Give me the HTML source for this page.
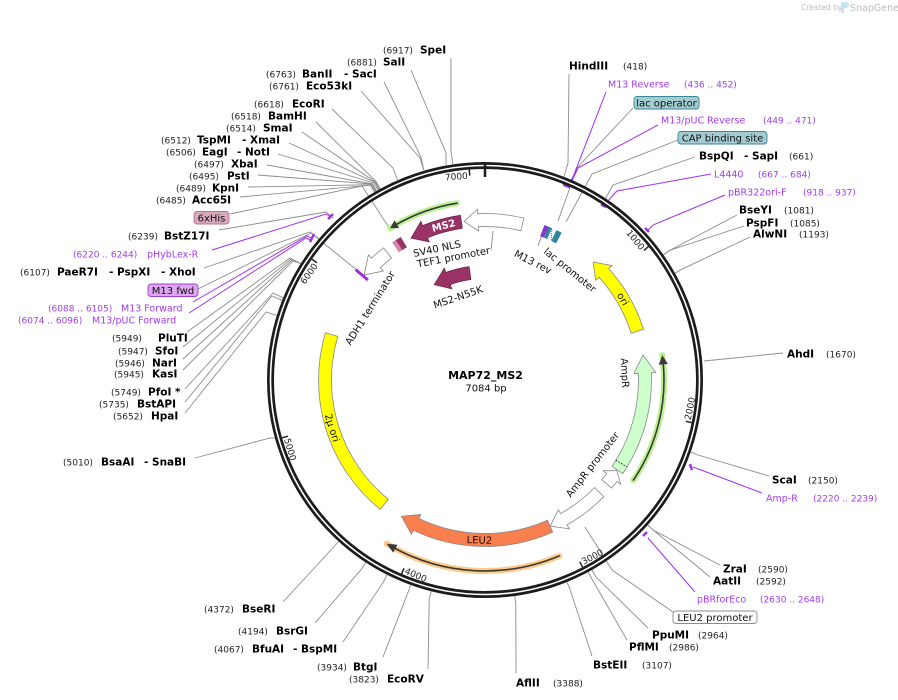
<!DOCTYPE html>
<html><head><meta charset="utf-8"><style>
html,body{margin:0;padding:0;background:#fff;}
svg{display:block;}
.n{font-size:9px;fill:#222;}
.b{font-size:10.5px;font-weight:bold;fill:#000;}
.p{font-size:9.5px;fill:#a23cf0;}
.pn{font-size:9px;fill:#a23cf0;}
.f{font-size:10px;fill:#111;}
.t{font-size:9px;fill:#222;}
</style></head><body>
<svg xmlns="http://www.w3.org/2000/svg" width="898" height="700" viewBox="0 0 898 700" font-family="'DejaVu Sans', Verdana, sans-serif">
<rect width="898" height="700" fill="#fff"/>

<!-- gray connector lines -->
<g stroke="#8c8c8c" stroke-width="0.9" fill="none">
<polyline points="451,58 451,152 452.8,164"/>
<polyline points="411,70 446,153 446,165"/>
<polyline points="384,82 421,157 423.8,170"/>
<polyline points="361,91 420,158 423.8,170"/>
<polyline points="332,109 393,168 397.5,180"/>
<polyline points="316,122 376.3,181.9 380.1,188.9"/>
<polyline points="302,132 375.6,182.2 379.4,189.3"/>
<polyline points="289,143 375.2,182.5 379.1,189.4"/>
<polyline points="278,154 374.1,183.1 378.1,190"/>
<polyline points="267,165 372.6,183.9 376.5,190.9"/>
<polyline points="258,175 372.2,184.1 376.2,191.1"/>
<polyline points="248,187 371.2,184.7 375.2,191.6"/>
<polyline points="240,197 370.5,185.2 374.5,192.1"/>
<polyline points="230,214 362,186 390,229"/>
<polyline points="219,230 326,212 333,218"/>
<polyline points="204,268 310,232 318.9,238.8"/>
<polyline points="198,289 311,233 358,271"/>
<polyline points="187,332 290,258 300.7,263.5"/>
<polyline points="183,347 291,259 300.7,263.5"/>
<polyline points="183,359 292,260 300.7,263.5"/>
<polyline points="183,370 293,261 300.7,263.5"/>
<polyline points="185,389 273,293 283.1,297.8"/>
<polyline points="185,402 272,296 282.1,300.3"/>
<polyline points="185,413 266,312 276.8,315.4"/>
<polyline points="195,458 270,438 274.8,437.9"/>
<polyline points="283,602 333.2,547.5 338.6,541.5"/>
<polyline points="315,623 361.4,569.2 365.8,562.5"/>
<polyline points="343,642 383.5,581.9 387.1,574.8"/>
<polyline points="383,657 408,592.5 410.7,585"/>
<polyline points="428,669 429.2,599 431.2,591.3"/>
<polyline points="516,673 515.8,603.9 514.7,596"/>
<polyline points="592,656 570,589.4 567,582"/>
<polyline points="627,640 592,579.1 588.2,572"/>
<polyline points="648,628 595.9,576.9 591.9,570"/>
<polyline points="673,612 612,570 585,527"/>
<polyline points="710,577 653.7,530.4 647.7,525.1"/>
<polyline points="720,565 653.7,530.4 647.7,525.1"/>
<polyline points="769,476 698,455 690.8,451.9"/>
<polyline points="783,353 704,361"/>
<polyline points="750,237 682,269.2 675,273.1"/>
<polyline points="737,215 670,250.2 663.5,254.8"/>
<polyline points="744,226 670,250.2 663.5,254.8"/>
<polyline points="695,157 613,185 605.6,198.4"/>
<polyline points="678,140 592,174 566,222"/>
<polyline points="633,108 577,168 558,221"/>
<polyline points="569,74 568,163 564,176.8"/>
<polyline points="493,231 491,250"/>
<polyline points="544,229 538,246"/>
</g>

<!-- purple primer lines -->
<g stroke="#a030f0" stroke-width="1" fill="none">
<polyline points="212,250 326,214 331,217"/>
<polyline points="193,302 307,236 311,238"/>
<polyline points="189,313 306,238 310,240"/>
<polyline points="695,592 648,538"/>
<polyline points="762,493 693,467"/>
<polyline points="725,195 653,225 648,230"/>
<polyline points="711,174 617,191 606,203"/>
<polyline points="658,125 578,168 570,185"/>
<polyline points="606,92 573,177 568,185"/>
</g>
<g stroke="#a030f0" stroke-width="2.5" fill="none">
<line x1="328" y1="219" x2="333" y2="214"/>
<line x1="310" y1="242" x2="314" y2="234"/>
<line x1="563" y1="184.5" x2="570" y2="187.5"/>
<line x1="601" y1="204.5" x2="606" y2="207"/>
<line x1="645" y1="228" x2="649" y2="232"/>
<line x1="690" y1="464" x2="692" y2="470"/>
<line x1="643" y1="536" x2="647" y2="532"/>
</g>

<!-- backbone ring -->
<circle cx="485" cy="380" r="214.5" fill="none" stroke="#1c1c1c" stroke-width="7"/>
<circle cx="485" cy="380" r="214.5" fill="none" stroke="#fff" stroke-width="1.6"/>

<!-- ticks -->
<g stroke="#1c1c1c" stroke-width="1.5">
<line x1="485" y1="163" x2="485" y2="177" stroke-width="2.5"/>
<line x1="648.5" y1="246.6" x2="643.9" y2="250.4"/>
<line x1="691.7" y1="422.6" x2="685.8" y2="421.3"/>
<line x1="582.6" y1="567.1" x2="579.8" y2="561.8"/>
<line x1="401.6" y1="573.8" x2="404.0" y2="568.3"/>
<line x1="282.1" y1="437.8" x2="287.9" y2="436.2"/>
<line x1="312.0" y1="259.3" x2="316.9" y2="262.7"/>
<line x1="469.3" y1="169.6" x2="469.7" y2="175.6"/>
</g>
<g class="t">
<text class="t" transform="translate(470,178.6) rotate(-4.27)" text-anchor="end" x="-2">7000</text>
<text class="t" transform="translate(319.3,264.4) rotate(-55.09)" text-anchor="end" x="-2">6000</text>
<text class="t" transform="translate(641.5,252.3) rotate(50.82)" text-anchor="end" x="-2">1000</text>
<text class="t" transform="translate(690.2,422.3) rotate(-78.36)" x="2">2000</text>
<text class="t" transform="translate(581.9,565.8) rotate(-27.54)" x="2">3000</text>
<text class="t" transform="translate(402.2,572.4) rotate(23.28)" x="2">4000</text>
<text class="t" transform="translate(283.5,437.4) rotate(74.09)" x="2">5000</text>
</g>

<!-- glow ORF arrows -->
<g fill="none" stroke-linecap="round">
<path d="M457.0,203.2 A179,179 0 0 0 390.1,228.2" stroke="#b9f28f" stroke-width="6"/>
<path d="M633.4,480.1 A179,179 0 0 0 662.3,355.1" stroke="#b9f28f" stroke-width="6"/>
<path d="M559.3,555.9 A191,191 0 0 1 386.6,543.7" stroke="#fdcb88" stroke-width="6"/>
<path d="M457.0,203.2 A179,179 0 0 0 395.5,225.0" stroke="#3a3a3a" stroke-width="1.6"/>
<path d="M633.4,480.1 A179,179 0 0 0 663.0,361.3" stroke="#3a3a3a" stroke-width="1.6"/>
<path d="M559.3,555.9 A191,191 0 0 1 392.4,547.0" stroke="#3a3a3a" stroke-width="1.6"/>
</g>
<polygon points="390.1,228.2 394.6,220.3 399.1,228.1" fill="#3a3a3a"/>
<polygon points="662.3,355.1 667.8,364.0 658.8,364.8" fill="#3a3a3a"/>
<polygon points="386.6,543.7 393.2,552.6 397.4,544.7" fill="#3a3a3a"/>

<!-- features -->
<g stroke-width="0.8">
<path d="M460.4,215.3 A166.5,166.5 0 0 0 422.6,225.6 L420.9,221.4 L411.1,238.1 L429.2,241.8 L427.5,237.7 A153.5,153.5 0 0 1 462.3,228.2 Z" fill="#993366" stroke="#6e2449"/>
<path d="M523.9,218.1 A166.5,166.5 0 0 0 477.7,213.7 L477.5,209.2 L464.1,221.4 L478.5,231.1 L478.3,226.7 A153.5,153.5 0 0 1 520.8,230.7 Z" fill="#fff" stroke="#888"/>
<path d="M469.1,266.6 A114.5,114.5 0 0 0 445.8,272.4 L444.3,268.2 L434.3,284.6 L451.8,288.8 L450.3,284.6 A101.5,101.5 0 0 1 470.9,279.5 Z" fill="#993366" stroke="#6e2449"/>
<path d="M643.6,329.4 A166.5,166.5 0 0 0 608.7,268.6 L612.1,265.6 L593.1,262.0 L595.7,280.3 L599.1,277.3 A153.5,153.5 0 0 1 631.2,333.3 Z" fill="#ffff00" stroke="#888"/>
<path d="M622.7,473.6 A166.5,166.5 0 0 0 651.3,372.7 L655.8,372.5 L643.0,355.0 L633.9,373.5 L638.3,373.3 A153.5,153.5 0 0 1 612.0,466.3 Z" fill="#ccffcc" stroke="#888"/>
<path d="M611.6,488.1 A166.5,166.5 0 0 0 617.1,481.4 L620.7,484.1 L616.9,470.6 L603.2,470.7 L606.8,473.5 A153.5,153.5 0 0 1 601.7,479.7 Z" fill="#fff" stroke="#888"/>
<path d="M603.8,496.7 A166.5,166.5 0 0 1 567.0,524.9 L569.2,528.8 L550.1,526.2 L558.4,509.7 L560.6,513.6 A153.5,153.5 0 0 0 594.5,487.6 Z" fill="#fff" stroke="#888"/>
<path d="M552.7,532.1 A166.5,166.5 0 0 1 413.3,530.3 L411.4,534.3 L401.4,516.4 L420.9,514.5 L418.9,518.5 A153.5,153.5 0 0 0 547.4,520.2 Z" fill="#fa7f4e" stroke="#888"/>
<path d="M380.2,509.4 A166.5,166.5 0 0 1 325.4,332.7 L337.8,336.4 A153.5,153.5 0 0 0 388.4,499.3 Z" fill="#ffff00" stroke="#888"/>
<path d="M383.6,247.9 A166.5,166.5 0 0 0 371.4,258.2 L368.4,254.9 L364.2,275.0 L383.4,271.0 L380.3,267.7 A153.5,153.5 0 0 1 391.5,258.2 Z" fill="#fff" stroke="#888"/>
</g>
<line x1="615.9" y1="460.2" x2="626.9" y2="467" stroke="#222" stroke-width="1" stroke-dasharray="1.5,1.5"/>
<!-- small features -->
<g fill="none" stroke-width="12">
<path d="M395.5,247.4 A160,160 0 0 1 399.0,245.1" stroke="#d28aa8"/>
<path d="M399.0,245.1 A160,160 0 0 1 403.8,242.1" stroke="#993366"/>
<path d="M542.3,230.6 A160,160 0 0 1 546.2,232.2" stroke="#8a35d0"/>
<path d="M546.2,232.2 A160,160 0 0 1 549.6,233.6" stroke="#31849b"/>
<path d="M549.6,233.6 A160,160 0 0 1 553.9,235.6" stroke="#f4f4f4"/>
<path d="M553.9,235.6 A160,160 0 0 1 558.9,238.1" stroke="#31849b"/>
</g>
<line x1="551.7" y1="229" x2="551.7" y2="241" stroke="#555" stroke-width="0.8" stroke-dasharray="1,1"/>
<line x1="355.7" y1="269.6" x2="367.9" y2="280" stroke="#9a30d8" stroke-width="3"/>

<!-- inner labels -->
<text transform="translate(443.6,225.5) rotate(-15)" y="3.5" text-anchor="middle" style="font-size:10px;font-weight:bold;fill:#fff">MS2</text>
<text class="f" transform="translate(437,248.5) rotate(-12)" y="3.5" text-anchor="middle">SV40 NLS</text>
<text class="f" transform="translate(453.5,257) rotate(-11)" y="3.5" text-anchor="middle">TEF1 promoter</text>
<text class="f" transform="translate(458,297) rotate(-19)" y="3.5" text-anchor="middle">MS2-N55K</text>
<text class="f" transform="translate(370,308) rotate(-58)" y="3.5" text-anchor="middle">ADH1 terminator</text>
<text class="f" transform="translate(533,262) rotate(27)" y="3.5" text-anchor="middle">M13 rev</text>
<text class="f" transform="translate(570,270) rotate(39)" y="3.5" text-anchor="middle">lac promoter</text>
<text class="f" transform="translate(623,299) rotate(59.5)" y="3.5" text-anchor="middle">ori</text>
<text class="f" transform="translate(625,373) rotate(87)" y="3.5" text-anchor="middle">AmpR</text>
<text class="f" transform="translate(592.5,464.5) rotate(-52)" y="3.5" text-anchor="middle">AmpR promoter</text>
<text class="f" transform="translate(479.4,540) rotate(1.8)" y="3.5" text-anchor="middle">LEU2</text>
<text class="f" transform="translate(332.3,427.8) rotate(72.6)" y="3.5" text-anchor="middle">2μ ori</text>

<!-- center title -->
<text x="485.5" y="379" text-anchor="middle" style="font-size:11px;font-weight:bold;fill:#000">MAP72_MS2</text>
<text x="486" y="391.5" text-anchor="middle" style="font-size:10px;fill:#111">7084 bp</text>

<!-- feature label boxes -->
<rect x="634" y="96.5" width="65" height="12.5" rx="3" fill="#a3cbd2" stroke="#3a8796" stroke-width="0.9"/>
<text class="f" x="666.5" y="106.5" text-anchor="middle">lac operator</text>
<rect x="678" y="131.5" width="89" height="12.5" rx="3" fill="#a3cbd2" stroke="#3a8796" stroke-width="0.9"/>
<text class="f" x="722.5" y="141.5" text-anchor="middle">CAP binding site</text>
<rect x="194" y="211.5" width="35" height="12.5" rx="3" fill="#d8a9be" stroke="#b27a92" stroke-width="0.9"/>
<text class="f" x="211.5" y="221.5" text-anchor="middle">6xHis</text>
<rect x="148" y="284" width="50" height="12.5" rx="3" fill="#dea6f2" stroke="#a040d0" stroke-width="0.9"/>
<text class="f" x="173" y="294" text-anchor="middle">M13 fwd</text>
<rect x="673" y="611" width="84" height="12.5" rx="3" fill="#fff" stroke="#8c8c8c" stroke-width="0.9"/>
<text class="f" x="715" y="621" text-anchor="middle">LEU2 promoter</text>

<!-- left enzyme labels -->
<text class="n" x="383" y="53.5">(6917)</text><text class="b" x="420" y="53.5">SpeI</text>
<text class="n" x="347" y="65.5">(6881)</text><text class="b" x="383" y="65.5">SalI</text>
<text class="n" x="266" y="77.5">(6763)</text><text class="b" x="302" y="77.5">BanII</text><text class="b" x="344" y="77.5">- SacI</text>
<text class="n" x="269" y="89.5">(6761)</text><text class="b" x="306" y="89.5">Eco53kI</text>
<text class="n" x="254" y="107.5">(6618)</text><text class="b" x="292" y="107.5">EcoRI</text>
<text class="n" x="231" y="119.5">(6518)</text><text class="b" x="268" y="119.5">BamHI</text>
<text class="n" x="226" y="131.5">(6514)</text><text class="b" x="263" y="131.5">SmaI</text>
<text class="n" x="161" y="143.5">(6512)</text><text class="b" x="197" y="143.5">TspMI</text><text class="b" x="242" y="143.5">- XmaI</text>
<text class="n" x="166" y="155.5">(6506)</text><text class="b" x="202" y="155.5">EagI</text><text class="b" x="237" y="155.5">- NotI</text>
<text class="n" x="194" y="167.5">(6497)</text><text class="b" x="231" y="167.5">XbaI</text>
<text class="n" x="189" y="179.5">(6495)</text><text class="b" x="227" y="179.5">PstI</text>
<text class="n" x="176" y="191.5">(6489)</text><text class="b" x="212" y="191.5">KpnI</text>
<text class="n" x="156" y="203.5">(6485)</text><text class="b" x="192" y="203.5">Acc65I</text>
<text class="n" x="128" y="239.5">(6239)</text><text class="b" x="164" y="239.5">BstZ17I</text>
<text class="pn" x="73" y="257.5">(6220 .. 6244)</text><text class="p" x="147" y="257.5">pHybLex-R</text>
<text class="n" x="20" y="275.5">(6107)</text><text class="b" x="57" y="275.5">PaeR7I</text><text class="b" x="109" y="275.5">- PspXI</text><text class="b" x="161" y="275.5">- XhoI</text>
<text class="pn" x="48" y="311.5">(6088 .. 6105)</text><text class="p" x="121" y="311.5">M13 Forward</text>
<text class="pn" x="18" y="323.5">(6074 .. 6096)</text><text class="p" x="92" y="323.5">M13/pUC Forward</text>
<text class="n" x="112" y="341.5">(5949)</text><text class="b" x="158" y="341.5">PluTI</text>
<text class="n" x="118" y="354.5">(5947)</text><text class="b" x="155" y="354.5">SfoI</text>
<text class="n" x="115" y="366.5">(5946)</text><text class="b" x="152" y="366.5">NarI</text>
<text class="n" x="114" y="377.5">(5945)</text><text class="b" x="152" y="377.5">KasI</text>
<text class="n" x="111" y="395.5">(5749)</text><text class="b" x="148" y="395.5">PfoI *</text>
<text class="n" x="99" y="407.5">(5735)</text><text class="b" x="137" y="407.5">BstAPI</text>
<text class="n" x="113" y="419.5">(5652)</text><text class="b" x="151" y="419.5">HpaI</text>
<text class="n" x="63" y="465.5">(5010)</text><text class="b" x="101" y="465.5">BsaAI</text><text class="b" x="144" y="465.5">- SnaBI</text>

<!-- bottom labels -->
<text class="n" x="204" y="612.5">(4372)</text><text class="b" x="242" y="612.5">BseRI</text>
<text class="n" x="238" y="634.5">(4194)</text><text class="b" x="276" y="634.5">BsrGI</text>
<text class="n" x="214" y="652.5">(4067)</text><text class="b" x="252" y="652.5">BfuAI</text><text class="b" x="293" y="652.5">- BspMI</text>
<text class="n" x="317" y="670.5">(3934)</text><text class="b" x="353" y="670.5">BtgI</text>
<text class="n" x="349" y="682.5">(3823)</text><text class="b" x="387" y="682.5">EcoRV</text>
<text class="b" x="516" y="686.5">AflII</text><text class="n" x="553" y="686.5">(3388)</text>
<text class="b" x="593" y="668.5">BstEII</text><text class="n" x="642" y="668.5">(3107)</text>
<text class="b" x="629" y="650.5">PflMI</text><text class="n" x="669" y="650.5">(2986)</text>
<text class="b" x="652" y="638.5">PpuMI</text><text class="n" x="698" y="638.5">(2964)</text>
<text class="p" x="697" y="602.5">pBRforEco</text><text class="pn" x="760" y="602.5">(2630 .. 2648)</text>
<text class="b" x="713" y="584.5">AatII</text><text class="n" x="756" y="584.5">(2592)</text>
<text class="b" x="723" y="572.5">ZraI</text><text class="n" x="758" y="572.5">(2590)</text>

<!-- right labels -->
<text class="p" x="766" y="501.5">Amp-R</text><text class="pn" x="813" y="501.5">(2220 .. 2239)</text>
<text class="b" x="772" y="483.5">ScaI</text><text class="n" x="808" y="483.5">(2150)</text>
<text class="b" x="787" y="357.5">AhdI</text><text class="n" x="826" y="357.5">(1670)</text>
<text class="b" x="753" y="237.5">AlwNI</text><text class="n" x="799" y="237.5">(1193)</text>
<text class="b" x="746" y="226.5">PspFI</text><text class="n" x="790" y="226.5">(1085)</text>
<text class="b" x="739" y="213.5">BseYI</text><text class="n" x="784" y="213.5">(1081)</text>
<text class="p" x="728" y="195.5">pBR322ori-F</text><text class="pn" x="803" y="195.5">(918 .. 937)</text>
<text class="p" x="714" y="177.5">L4440</text><text class="pn" x="758" y="177.5">(667 .. 684)</text>
<text class="b" x="699" y="159.5">BspQI</text><text class="b" x="744" y="159.5">- SapI</text><text class="n" x="789" y="159.5">(661)</text>
<text class="p" x="661" y="123.5">M13/pUC Reverse</text><text class="pn" x="763" y="123.5">(449 .. 471)</text>
<text class="p" x="608" y="87.5">M13 Reverse</text><text class="pn" x="684" y="87.5">(436 .. 452)</text>
<text class="b" x="569" y="69.5">HindIII</text><text class="n" x="623" y="69.5">(418)</text>

<!-- watermark -->
<text x="801" y="10" style="font-size:7.5px;fill:#bdbdbd">Created by</text>
<path d="M841,2 h5 a3,3 0 0 1 0,6 h-2 v5 h-3 z" fill="#c4e4f4"/>
<text x="850" y="11" style="font-size:9.5px;fill:#bdbdbd">SnapGene</text>
</svg>
</body></html>
